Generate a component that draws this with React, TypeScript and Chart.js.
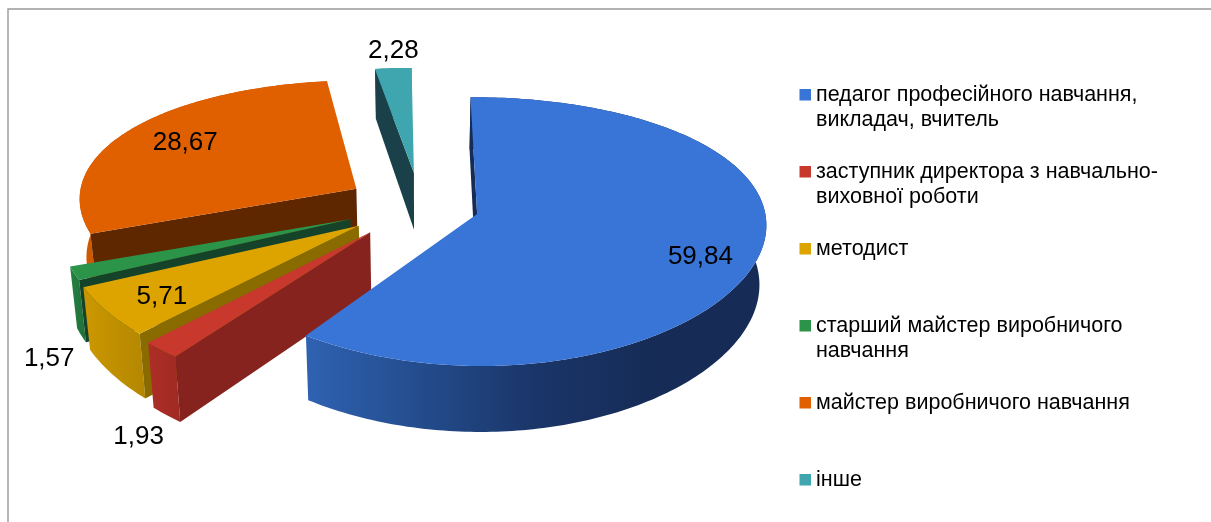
import React, { useEffect, useRef } from "react";
import { Chart, registerables } from "chart.js";

Chart.register(...registerables);

const categories: string[][] = [
  ["педагог професійного навчання,", "викладач, вчитель"],
  ["заступник директора з навчально-", "виховної роботи"],
  ["методист", ""],
  ["старший майстер виробничого", "навчання"],
  ["майстер виробничого навчання", ""],
  ["інше", ""],
];
const shares = [59.84, 1.93, 5.71, 1.57, 28.67, 2.28];
const valueLabels = ["59,84", "1,93", "5,71", "1,57", "28,67", "2,28"];
const explodeOffsets = [42.5, 53.5, 53, 53.5, 53.5, 54];
const radiusScale = [1, 1.02, 1.01, 1.0, 0.97, 0.97];
const viewTurnDeg = [0, 2.7, 2.6, 2.2, 1.4, 0];

const topColors = ["#3875D7", "#C9382D", "#DDA400", "#2C9449", "#E06000", "#3FA6B0"];
const cutColors = ["#162C57", "#87231E", "#8A6B00", "#14432A", "#5F2700", "#1A4149"];
const wallStops = [
  ["#2F62B2", "#234C8C", "#1A3568", "#162C57", "#162C57"],
  ["#AD2E26", "#A02A23"],
  ["#CC9800", "#B48700"],
  ["#258040", "#20703A"],
  ["#D05800", "#C45300"],
  ["#35909A", "#2E808A"],
];
const paintOrder = [5, 4, 3, 2, 1, 0];
const labelRadius = [0.78, 1.42, 0.72, 1.32, 0.66, 1.22];
const labelNudge = [[4, 12], [48, 24], [-27, 6], [61, 58], [-12, -7], [5, 6]];

const GEO = { cx: 420, cy: 206, rx: 287, ry: 130, px: 0.07, py: 0.13, d0: 58.5, d1: 7, shrink: 0.98 };
const FONT = "'Liberation Sans', Arial, sans-serif";

type P = { x: number; y: number };
const project = (X: number, V: number): P => ({
  x: GEO.cx + (GEO.rx * X) / (1 - GEO.px * V),
  y: GEO.cy + (GEO.ry * V) / (1 - GEO.py * V),
});
const drop = (X: number, V: number): P => {
  const p = project(X, V);
  return { x: GEO.cx + (p.x - GEO.cx) * GEO.shrink, y: p.y + GEO.d0 + GEO.d1 * V };
};
const fillPoly = (ctx: CanvasRenderingContext2D, pts: P[], fill: string | CanvasGradient) => {
  ctx.beginPath();
  pts.forEach((p, i) => (i ? ctx.lineTo(p.x, p.y) : ctx.moveTo(p.x, p.y)));
  ctx.closePath();
  ctx.fillStyle = fill;
  ctx.fill();
};
const area = (pts: P[]) => {
  let s = 0;
  pts.forEach((p, i) => {
    const q = pts[(i + 1) % pts.length];
    s += p.x * q.y - q.x * p.y;
  });
  return s / 2;
};

const pie3d = {
  id: "pie3d",
  beforeDraw(chart: any) {
    const ctx = chart.ctx as CanvasRenderingContext2D;
    ctx.save();
    ctx.strokeStyle = "#999999";
    ctx.lineWidth = 1.4;
    ctx.beginPath();
    ctx.moveTo(8, 522);
    ctx.lineTo(8, 9);
    ctx.lineTo(1211, 9);
    ctx.stroke();
    ctx.restore();
  },
  beforeDatasetsDraw(chart: any) {
    const ctx = chart.ctx as CanvasRenderingContext2D;
    const arcs = chart.getDatasetMeta(0).data;
    ctx.save();
    paintOrder.forEach((i) => {
      const arc = arcs[i];
      const props = arc.getProps(["startAngle", "endAngle", "outerRadius"], true);
      const turn = (viewTurnDeg[i] * Math.PI) / 180;
      const startAngle = props.startAngle + turn;
      const endAngle = props.endAngle + turn;
      const e = arc.options.offset / props.outerRadius;
      const mid = (startAngle + endAngle) / 2;
      const ox = e * Math.cos(mid);
      const ov = e * Math.sin(mid);
      const world: [number, number][] = [];
      const steps = Math.max(2, Math.ceil(((endAngle - startAngle) * 180) / Math.PI));
      const rs = radiusScale[i];
      for (let k = 0; k <= steps; k++) {
        const a = startAngle + ((endAngle - startAngle) * k) / steps;
        world.push([ox + rs * Math.cos(a), ov + rs * Math.sin(a)]);
      }
      const top = world.map(([X, V]) => project(X, V));
      const bot = world.map(([X, V]) => drop(X, V));
      const apexT = project(ox, ov);
      const apexB = drop(ox, ov);

      const startCut = [apexT, top[0], bot[0], apexB];
      const endCut = [apexB, bot[steps], top[steps], apexT];

      const wall = [...top, ...[...bot].reverse()];
      const xs = wall.map((p) => p.x);
      const x0 = Math.min(...xs);
      const x1 = Math.max(...xs);
      const grad = ctx.createLinearGradient(x0, 0, x1, 0);
      wallStops[i].forEach((c, k, all) => grad.addColorStop(k / (all.length - 1), c));
      fillPoly(ctx, wall, grad);
      [startCut, endCut].forEach((q) => {
        if (area(q) < 0) fillPoly(ctx, q, cutColors[i]);
      });
      fillPoly(ctx, [apexT, ...top], topColors[i]);
    });

    ctx.fillStyle = "#000";
    ctx.font = `26px ${FONT}`;
    ctx.textAlign = "center";
    ctx.textBaseline = "middle";
    arcs.forEach((arc: any, i: number) => {
      const { startAngle, endAngle, outerRadius } = arc.getProps(["startAngle", "endAngle", "outerRadius"], true);
      const e = arc.options.offset / outerRadius;
      const mid = (startAngle + endAngle) / 2;
      const r = e + labelRadius[i];
      const p = project(r * Math.cos(mid), r * Math.sin(mid));
      ctx.fillText(valueLabels[i], p.x + labelNudge[i][0], p.y + labelNudge[i][1]);
    });
    ctx.restore();
    return false;
  },
};

export default function App() {
  const ref = useRef<HTMLCanvasElement | null>(null);
  useEffect(() => {
    const chart = new Chart(ref.current as HTMLCanvasElement, {
      type: "pie",
      data: {
        labels: categories as any,
        datasets: [
          {
            data: shares,
            backgroundColor: topColors,
            borderWidth: 0,
            offset: explodeOffsets,
          } as any,
        ],
      },
      plugins: [pie3d as any],
      options: {
        responsive: false,
        animation: false,
        rotation: -0.6,
        layout: { padding: { top: 58, right: -39.5 } },
        plugins: {
          tooltip: { enabled: false },
          title: { display: false },
          legend: {
            position: "right",
            align: "start",
            labels: {
              usePointStyle: true,
              pointStyle: "rect",
              boxWidth: 0.01,
              boxHeight: 11.5,
              padding: 26,
              color: "#111111",
              font: { family: FONT, size: 21.5, lineHeight: "25.5px" },
              generateLabels: () =>
                categories.map((text, i) => ({
                  text: text as any,
                  fillStyle: topColors[i],
                  strokeStyle: topColors[i],
                  lineWidth: 0,
                  pointStyle: "rect",
                  hidden: false,
                  index: i,
                })),
            },
          },
        },
      },
    } as any);
    return () => chart.destroy();
  }, []);
  return (
    <canvas
      ref={ref}
      width={1211}
      height={522}
      style={{ position: "absolute", left: 0, top: 0, display: "block", width: 1211, height: 522 }}
    />
  );
}
